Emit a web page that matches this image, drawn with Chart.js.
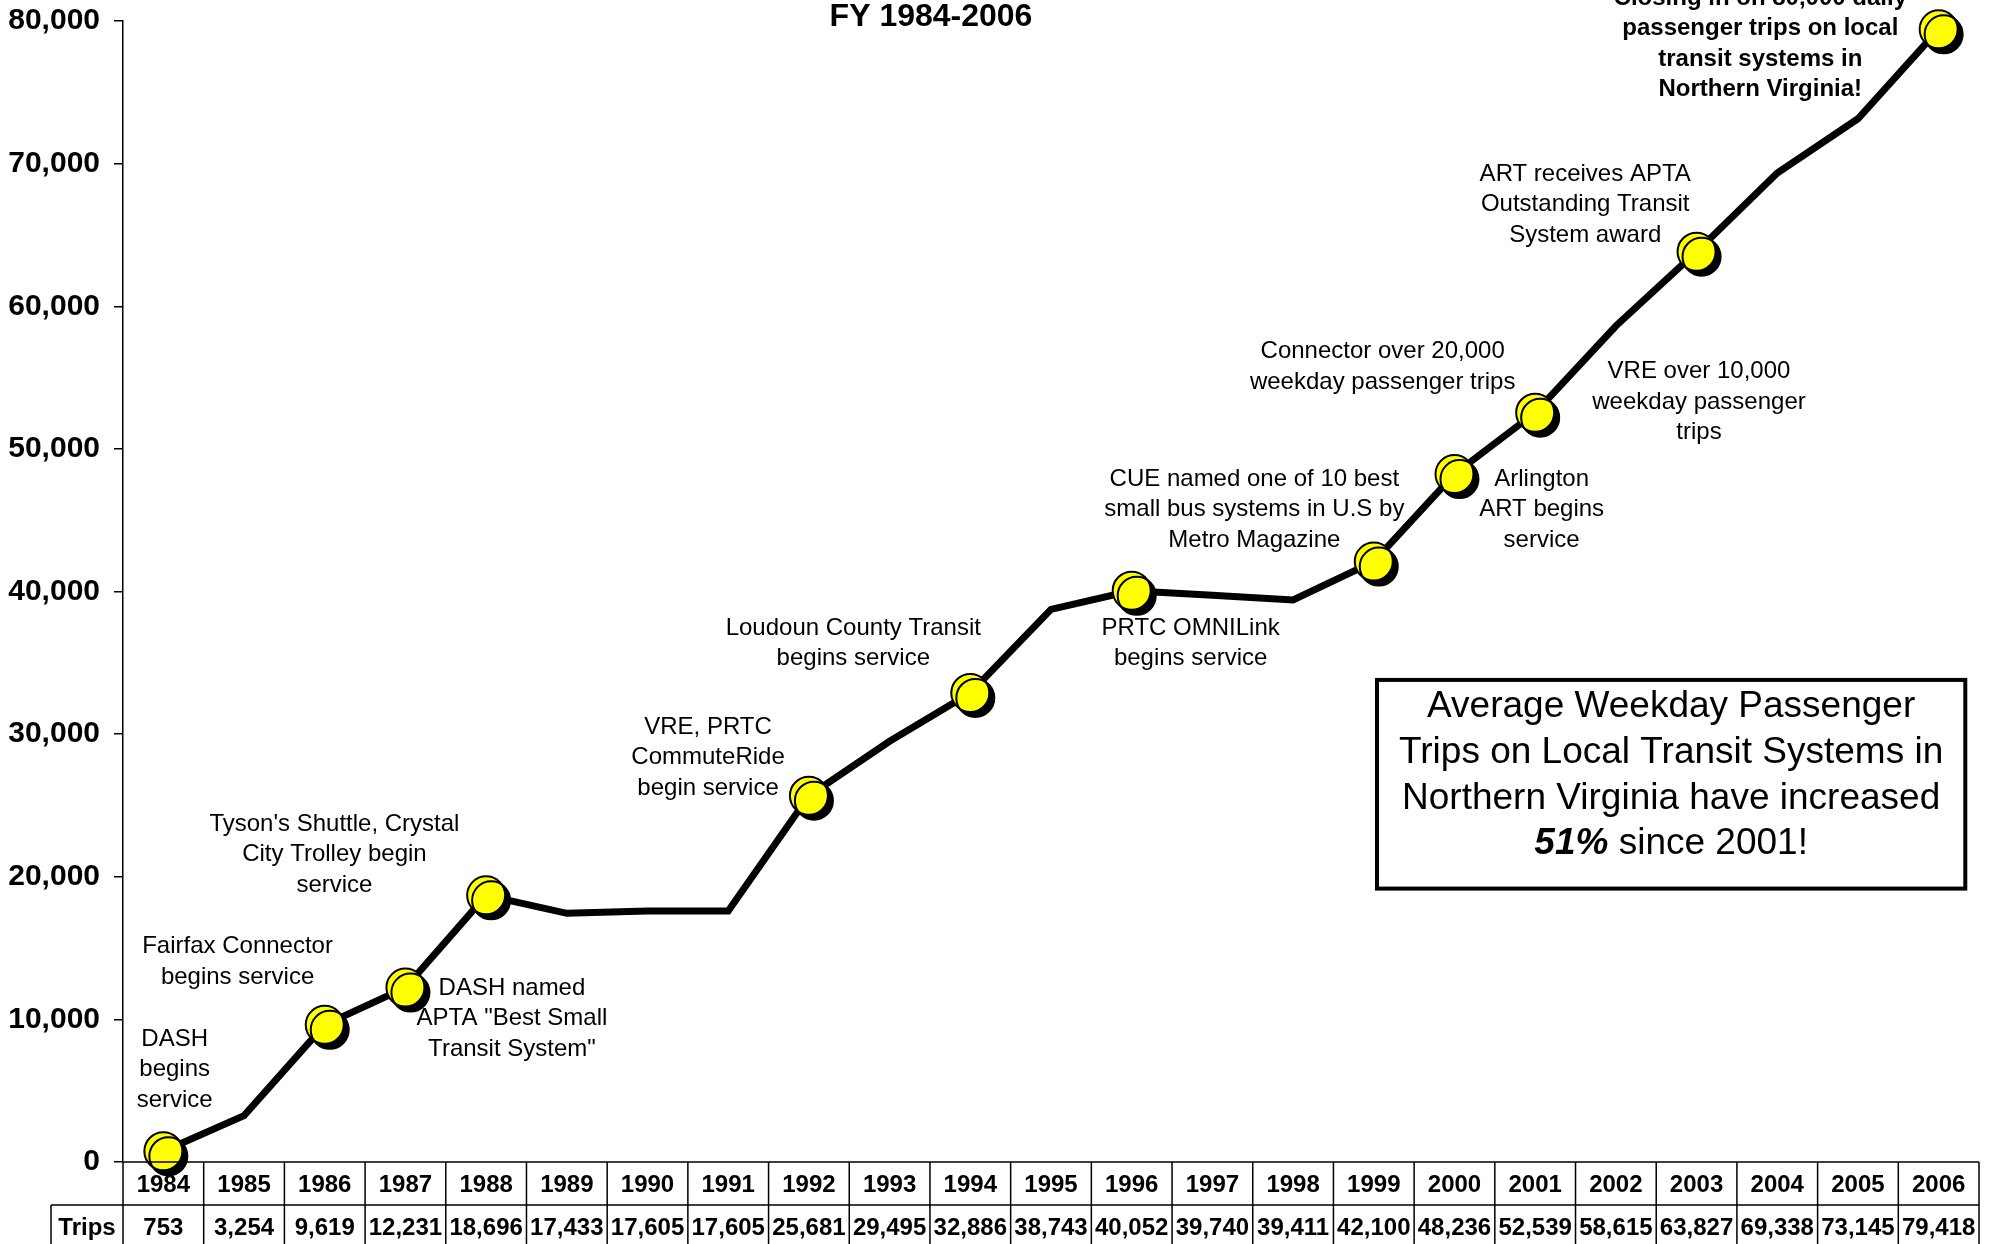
<!DOCTYPE html>
<html>
<head>
<meta charset="utf-8">
<script src="https://cdn.jsdelivr.net/npm/chart.js@4.4.0/dist/chart.umd.min.js"></script>
<style>
  html, body { margin: 0; padding: 0; background: #fff; overflow: hidden; }
  #wrap { width: 1994px; height: 1244px; position: relative; }
</style>
</head>
<body>
<div id="wrap"><canvas id="ridershipChart"></canvas></div>
<script>
// --- Data ---
const years = ['1984', '1985', '1986', '1987', '1988', '1989', '1990', '1991', '1992', '1993', '1994', '1995',
    '1996', '1997', '1998', '1999', '2000', '2001', '2002', '2003', '2004', '2005', '2006'];
const trips = [753, 3254, 9619, 12231, 18696, 17433, 17605, 17605, 25681, 29495, 32886, 38743,
    40052, 39740, 39411, 42100, 48236, 52539, 58615, 63827, 69338, 73145, 79418];
// years that get a yellow milestone marker
const milestoneYears = ['1984', '1986', '1987', '1988', '1992', '1994', '1996', '1999', '2000', '2001', '2003', '2006'];
const yTicks = [0, 10000, 20000, 30000, 40000, 50000, 60000, 70000, 80000];

const chartTitle = 'FY 1984-2006';
const rowLabel = 'Trips';

// milestone notes, anchored at (category index, value) of the first line's centre
const notes = [
    { lines: ['DASH', 'begins', 'service'], at: [0.14, 8600] },
    { lines: ['Fairfax Connector', 'begins service'], at: [0.92, 15100] },
    { lines: ["Tyson's Shuttle, Crystal", 'City Trolley begin', 'service'], at: [2.12, 23700] },
    { lines: ['DASH named', 'APTA "Best Small', 'Transit System"'], at: [4.32, 12180] },
    { lines: ['VRE, PRTC', 'CommuteRide', 'begin service'], at: [6.75, 30500] },
    { lines: ['Loudoun County Transit', 'begins service'], at: [8.55, 37440] },
    { lines: ['PRTC OMNILink', 'begins service'], at: [12.73, 37440] },
    { lines: ['CUE named one of 10 best', 'small bus systems in U.S by', 'Metro Magazine'], at: [13.52, 47870] },
    { lines: ['Arlington', 'ART begins', 'service'], at: [17.08, 47870] },
    { lines: ['Connector over 20,000', 'weekday passenger trips'], at: [15.11, 56820] },
    { lines: ['VRE over 10,000', 'weekday passenger', 'trips'], at: [19.03, 55420] },
    { lines: ['ART receives APTA', 'Outstanding Transit', 'System award'], at: [17.62, 69280] },
    { lines: ['Closing in on 80,000 daily', 'passenger trips on local', 'transit systems in', 'Northern Virginia!'], at: [19.79, 81600], bold: true }
];

const boxLines = ['Average Weekday Passenger', 'Trips on Local Transit Systems in', 'Northern Virginia have increased'];
const boxLastBold = '51%';
const boxLastRest = ' since 2001!';

const FONT = '"Liberation Sans", Arial, Helvetica, sans-serif';

const markers = years.map((y, i) => milestoneYears.includes(y) ? trips[i] : null);

// draws title, notes, summary box and the data table under the axis
const decorations = {
    id: 'decorations',
    beforeDatasetDraw(chart, args) {
        if (args.index === 0) {
            const ctx = chart.ctx;
            ctx.save();
            ctx.shadowColor = '#000';
            ctx.shadowOffsetX = 5;
            ctx.shadowOffsetY = 5;
            ctx.shadowBlur = 0;
        }
    },
    afterDatasetDraw(chart, args) {
        if (args.index === 0) chart.ctx.restore();
    },
    afterDatasetsDraw(chart) {
        const ctx = chart.ctx;
        const xs = chart.scales.x;
        const ys = chart.scales.y;
        const area = chart.chartArea;
        ctx.save();

        // title
        ctx.fillStyle = '#000';
        ctx.textAlign = 'center';
        ctx.textBaseline = 'middle';
        ctx.font = 'bold 32px ' + FONT;
        ctx.fillText(chartTitle, 931, 17);

        // notes
        notes.forEach(n => {
            const cx = xs.getPixelForValue(n.at[0]);
            const cy = ys.getPixelForValue(n.at[1]);
            ctx.font = (n.bold ? 'bold ' : '') + '24px ' + FONT;
            n.lines.forEach((t, k) => ctx.fillText(t, cx, cy + k * 30.5));
        });

        // summary box
        const bx = xs.getPixelForValue(15.04);
        const bx2 = xs.getPixelForValue(22.33);
        const by = ys.getPixelForValue(33800);
        const by2 = ys.getPixelForValue(19170);
        ctx.lineWidth = 4;
        ctx.strokeStyle = '#000';
        ctx.fillStyle = '#fff';
        ctx.fillRect(bx, by, bx2 - bx, by2 - by);
        ctx.strokeRect(bx, by, bx2 - bx, by2 - by);
        ctx.fillStyle = '#000';
        const bcx = (bx + bx2) / 2;
        ctx.font = '37px ' + FONT;
        boxLines.forEach((t, k) => ctx.fillText(t, bcx, by + 27 + k * 45.7));
        ctx.font = 'italic bold 37px ' + FONT;
        const w1 = ctx.measureText(boxLastBold).width;
        ctx.font = '37px ' + FONT;
        const w2 = ctx.measureText(boxLastRest).width;
        const startX = bcx - (w1 + w2) / 2;
        ctx.textAlign = 'left';
        ctx.font = 'italic bold 37px ' + FONT;
        ctx.fillText(boxLastBold, startX, by + 27 + 3 * 45.7);
        ctx.font = '37px ' + FONT;
        ctx.fillText(boxLastRest, startX + w1, by + 27 + 3 * 45.7);

        // data table
        const colW = xs.getPixelForValue(1) - xs.getPixelForValue(0);
        const top = area.bottom;
        const mid = top + 43;
        const bottom = chart.height + 2;
        const labelLeft = area.left - 72;
        ctx.lineWidth = 1.5;
        ctx.beginPath();
        ctx.moveTo(area.left, top); ctx.lineTo(area.right, top);
        ctx.moveTo(labelLeft, mid); ctx.lineTo(area.right, mid);
        ctx.moveTo(labelLeft, mid); ctx.lineTo(labelLeft, bottom);
        for (let k = 0; k <= years.length; k++) {
            const lx = area.left + k * colW;
            ctx.moveTo(lx, top); ctx.lineTo(lx, bottom);
        }
        ctx.stroke();

        ctx.textAlign = 'center';
        ctx.font = 'bold 24px ' + FONT;
        years.forEach((y, i) => ctx.fillText(y, xs.getPixelForValue(i), top + 23));
        trips.forEach((v, i) => ctx.fillText(v.toLocaleString('en-US'), xs.getPixelForValue(i), mid + 23));
        ctx.fillText(rowLabel, (labelLeft + area.left) / 2, mid + 23);
        ctx.restore();
    }
};

function renderChart() {
    const ctx = document.getElementById('ridershipChart').getContext('2d');
    new Chart(ctx, {
        type: 'line',
        data: {
            labels: years,
            datasets: [{
                label: 'Milestones',
                data: markers,
                showLine: false,
                pointRadius: 19,
                pointHoverRadius: 19,
                pointBackgroundColor: '#ffff00',
                pointBorderColor: '#000',
                pointBorderWidth: 2,
                clip: false,
                order: 0
            }, {
                label: 'Trips',
                data: trips,
                borderColor: '#000',
                borderWidth: 7,
                pointRadius: 0,
                tension: 0,
                borderJoinStyle: 'miter',
                clip: false,
                order: 1
            }]
        },
        options: {
            responsive: true,
            maintainAspectRatio: false,
            animation: false,
            devicePixelRatio: 1,
            layout: { autoPadding: false, padding: { top: 21, right: 15, bottom: 82, left: 0 } },
            scales: {
                x: {
                    display: false,
                    offset: true,
                    afterFit: (scale) => { scale.paddingLeft = 0; scale.paddingRight = 0; }
                },
                y: {
                    min: 0,
                    max: 80000,
                    afterFit: (scale) => {
                        scale.width = 123;
                        scale.paddingTop = 0;
                        scale.paddingBottom = 0;
                    },
                    afterBuildTicks: (scale) => { scale.ticks = yTicks.map(v => ({ value: v })); },
                    border: { display: true, color: '#000', width: 1.5 },
                    grid: { drawOnChartArea: false, drawTicks: true, tickLength: 9, color: '#000', lineWidth: 1.5 },
                    ticks: {
                        padding: 14,
                        color: '#000',
                        font: { family: FONT, size: 30, weight: 'bold' },
                        callback: (v) => Number(v).toLocaleString('en-US')
                    }
                }
            },
            plugins: {
                legend: { display: false },
                title: { display: false },
                tooltip: { enabled: false }
            }
        },
        plugins: [decorations]
    });
}

document.addEventListener('DOMContentLoaded', renderChart);
</script>
</body>
</html>
